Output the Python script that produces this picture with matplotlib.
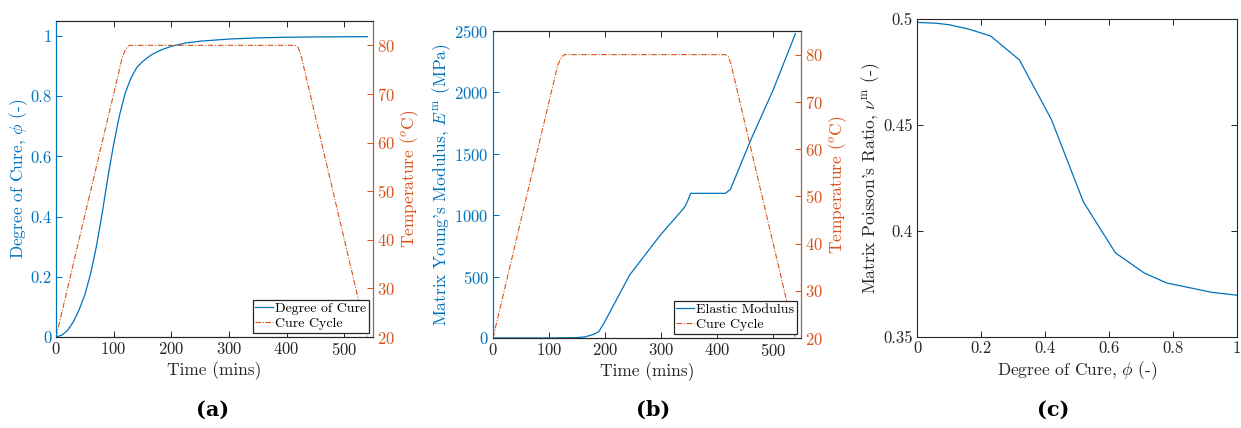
import numpy as np
import matplotlib
matplotlib.use('Agg')
import matplotlib.pyplot as plt

plt.rcParams['font.family'] = 'serif'
plt.rcParams['font.serif'] = ['cmr10']
plt.rcParams['mathtext.fontset'] = 'cm'
plt.rcParams['axes.formatter.use_mathtext'] = True
plt.rcParams['axes.unicode_minus'] = False

blue = '#0072BD'
orange = '#D95319'
grey = '#262626'
dashdot = (0, (5, 1.5, 1, 1.5))

# cure cycle (temperature vs time)
cycle_t = [0, 115, 120, 125, 128, 415, 420, 425, 540]
cycle_T = [20, 77.5, 79.0, 79.8, 80, 80, 79.6, 78.0, 20]

# degree of cure vs time
cure_t = [0, 10, 20, 30, 40, 50, 60, 70, 80, 90, 100, 110, 120, 130, 140, 150, 165, 180, 200,
          225, 250, 300, 350, 400, 450, 540]
cure_phi = [0, 0.006, 0.022, 0.05, 0.09, 0.14, 0.21, 0.30, 0.41, 0.53, 0.64, 0.735, 0.81, 0.86,
            0.895, 0.915, 0.937, 0.952, 0.966, 0.977, 0.983, 0.99, 0.994, 0.996, 0.997, 0.998]

# elastic modulus vs time
mod_t = [0, 100, 150, 165, 180, 189, 198, 244, 299, 342, 347, 353, 415, 424, 460, 500, 540]
mod_E = [0, 0, 3, 10, 30, 52, 119, 513, 839, 1064, 1110, 1178, 1178, 1211, 1610, 2017, 2478]

# poisson ratio vs degree of cure
nu_phi = [0, 0.06, 0.1, 0.16, 0.23, 0.32, 0.42, 0.52, 0.62, 0.71, 0.78, 0.85, 0.92, 1.0]
nu_val = [0.4984, 0.498, 0.4973, 0.4953, 0.492, 0.4807, 0.4526, 0.4137, 0.3897, 0.3802, 0.3755,
          0.3733, 0.3711, 0.3697]

TICK_FS = 12
LAB_FS = 12.5


def style_ax(ax, left_col, twin=False):
    ax.tick_params(direction='in', top=True, right=not twin, labelsize=TICK_FS,
                   length=4, width=0.7, color=grey, pad=3)
    for s in ax.spines.values():
        s.set_linewidth(0.8)
        s.set_color(grey)
    ax.spines['left'].set_color(left_col)
    ax.tick_params(axis='x', colors=grey)
    ax.tick_params(axis='y', colors=left_col)


def add_twin(ax, label):
    axb = ax.twinx()
    axb.plot(cycle_t, cycle_T, color=orange, lw=0.8, ls=dashdot, label='Cure Cycle')
    axb.set_ylim(20, 85)
    axb.set_yticks([20, 30, 40, 50, 60, 70, 80])
    for s in axb.spines.values():
        s.set_linewidth(0.8)
        s.set_color(grey)
    axb.spines['right'].set_color(orange)
    axb.spines['left'].set_color(blue)
    axb.tick_params(axis='y', direction='in', colors=orange, labelsize=TICK_FS, length=4,
                    width=0.7, pad=3)
    axb.set_ylabel(label, fontsize=LAB_FS, color=orange, labelpad=2)
    h1, l1 = ax.get_legend_handles_labels()
    h2, l2 = axb.get_legend_handles_labels()
    leg = axb.legend(h1 + h2, l1 + l2, loc='lower right', fontsize=10, fancybox=False,
                     framealpha=1, edgecolor=grey, handlelength=1.25, handletextpad=0.15,
                     borderpad=0.2, labelspacing=0.15, borderaxespad=0.3)
    leg.get_frame().set_linewidth(0.9)
    return axb


fig = plt.figure(figsize=(12.41, 4.28), dpi=100)
W, H = 1241, 428


def rect(l, r, t, b):
    return [l / W, 1 - b / H, (r - l) / W, (b - t) / H]


# ---- (a)
ax1 = fig.add_axes(rect(56, 373, 21, 337))
ax1.plot(cure_t, cure_phi, color=blue, lw=0.9, label='Degree of Cure')
ax1.set_xlim(0, 550)
ax1.set_ylim(0, 1.05)
ax1.set_xticks([0, 100, 200, 300, 400, 500])
ax1.set_yticks([0, 0.2, 0.4, 0.6, 0.8, 1])
ax1.set_yticklabels(['0', '0.2', '0.4', '0.6', '0.8', '1'])
ax1.set_xlabel('Time (mins)', fontsize=LAB_FS, color=grey, labelpad=2)
ax1.set_ylabel(r'Degree of Cure, $\phi$ (-)', fontsize=LAB_FS, color=blue, labelpad=0)
style_ax(ax1, blue, twin=True)
add_twin(ax1, r'Temperature ($^o$C)')

# ---- (b)
ax2 = fig.add_axes(rect(493, 801, 31, 338))
ax2.plot(mod_t, mod_E, color=blue, lw=0.9, label='Elastic Modulus')
ax2.set_xlim(0, 550)
ax2.set_ylim(0, 2500)
ax2.set_xticks([0, 100, 200, 300, 400, 500])
ax2.set_yticks([0, 500, 1000, 1500, 2000, 2500])
ax2.set_xlabel('Time (mins)', fontsize=LAB_FS, color=grey, labelpad=2)
ax2.set_ylabel(r"Matrix Young's Modulus, $E^{\mathrm{m}}$ (MPa)", fontsize=LAB_FS, color=blue,
               labelpad=1)
style_ax(ax2, blue, twin=True)
add_twin(ax2, r'Temperature ($^o$C)')

# ---- (c)
ax3 = fig.add_axes(rect(917, 1237, 19, 337))
ax3.plot(nu_phi, nu_val, color=blue, lw=0.9)
ax3.set_xlim(0, 1)
ax3.set_ylim(0.35, 0.5)
ax3.set_xticks([0, 0.2, 0.4, 0.6, 0.8, 1])
ax3.set_xticklabels(['0', '0.2', '0.4', '0.6', '0.8', '1'])
ax3.set_yticks([0.35, 0.4, 0.45, 0.5])
ax3.set_yticklabels(['0.35', '0.4', '0.45', '0.5'])
ax3.set_xlabel(r'Degree of Cure, $\phi$ (-)', fontsize=LAB_FS, color=grey, labelpad=2)
ax3.set_ylabel(r"Matrix Poisson's Ratio, $\nu^{\mathrm{m}}$ (-)", fontsize=LAB_FS, color=grey,
               labelpad=1)
style_ax(ax3, grey)

for x, lab in [(213, '(a)'), (653, '(b)'), (1053, '(c)')]:
    fig.text(x / W, 1 - 410 / H, lab, ha='center', va='center', fontsize=15,
             fontweight='bold', family='DejaVu Serif')

fig.savefig('out.png', dpi=100)
